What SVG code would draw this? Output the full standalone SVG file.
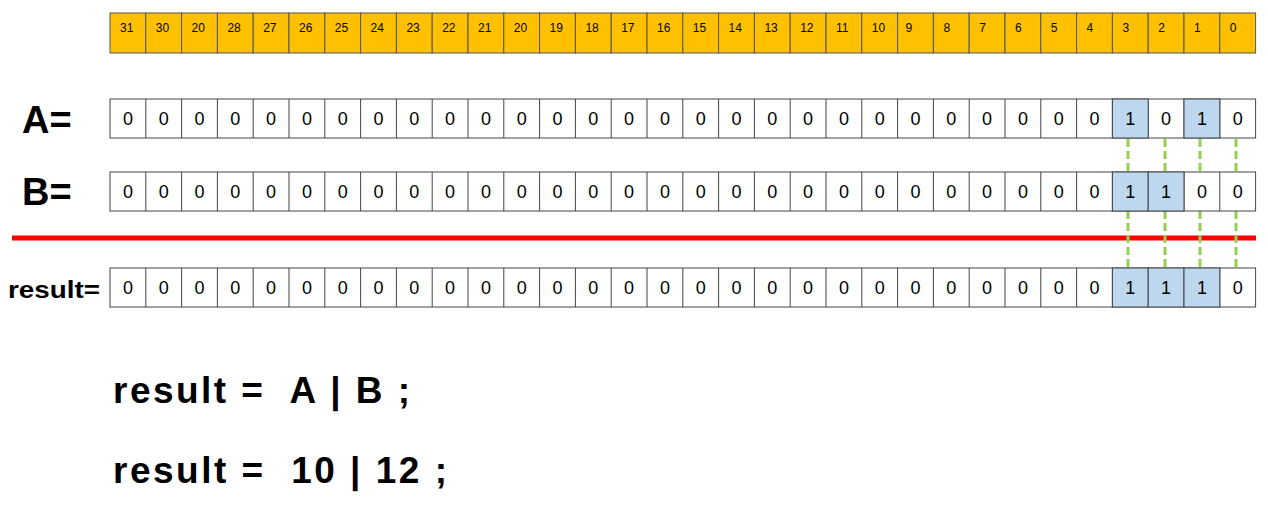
<svg xmlns="http://www.w3.org/2000/svg" width="1268" height="510" viewBox="0 0 1268 510">
<style>
.h{fill:#FFC000;stroke:#555;stroke-width:1}
.c{fill:#fff;stroke:#444;stroke-width:1}
.b{fill:#BDD7EE;stroke:#444;stroke-width:1}
.ht{font-family:"Liberation Sans",sans-serif;font-size:12px;fill:#000}
.v{font-family:"Liberation Sans",sans-serif;font-size:18px;fill:#000;text-anchor:middle}
.l{font-family:"Liberation Sans",sans-serif;font-weight:bold;fill:#000}
.g{stroke:#92D050;stroke-width:3;stroke-dasharray:8,4}
</style>
<rect width="1268" height="510" fill="#fff"/>
<g id="labels">
<text class="l" x="22" y="133" font-size="38">A=</text>
<text class="l" x="22" y="205" font-size="38">B=</text>
<text class="l" x="8" y="298" font-size="24" textLength="92" lengthAdjust="spacingAndGlyphs">result=</text>
<text class="l" x="113" y="403" font-size="37" xml:space="preserve" textLength="297">result =  A | B ;</text>
<text class="l" x="113" y="483" font-size="37" xml:space="preserve" textLength="334">result =  10 | 12 ;</text>
</g>
<g id="connectors">
<line x1="12" y1="238" x2="1256" y2="238" stroke="#FF0000" stroke-width="5"/>
<line class="g" x1="1128" y1="139" x2="1128" y2="171"/>
<line class="g" x1="1165" y1="139" x2="1165" y2="171"/>
<line class="g" x1="1200" y1="139" x2="1200" y2="171"/>
<line class="g" x1="1236" y1="139" x2="1236" y2="171"/>
<line class="g" x1="1128" y1="211" x2="1128" y2="267"/>
<line class="g" x1="1165" y1="211" x2="1165" y2="270"/>
<line class="g" x1="1200" y1="211" x2="1200" y2="268"/>
<line class="g" x1="1236" y1="211" x2="1236" y2="268"/>
</g>
<g id="header">
<rect class="h" x="110.0" y="13" width="35.8" height="40"/><text class="ht" x="120.0" y="32">31</text>
<rect class="h" x="145.8" y="13" width="35.8" height="40"/><text class="ht" x="155.8" y="32">30</text>
<rect class="h" x="181.6" y="13" width="35.8" height="40"/><text class="ht" x="191.6" y="32">20</text>
<rect class="h" x="217.4" y="13" width="35.8" height="40"/><text class="ht" x="227.4" y="32">28</text>
<rect class="h" x="253.2" y="13" width="35.8" height="40"/><text class="ht" x="263.2" y="32">27</text>
<rect class="h" x="289.0" y="13" width="35.8" height="40"/><text class="ht" x="299.0" y="32">26</text>
<rect class="h" x="324.8" y="13" width="35.8" height="40"/><text class="ht" x="334.8" y="32">25</text>
<rect class="h" x="360.6" y="13" width="35.8" height="40"/><text class="ht" x="370.6" y="32">24</text>
<rect class="h" x="396.4" y="13" width="35.8" height="40"/><text class="ht" x="406.4" y="32">23</text>
<rect class="h" x="432.2" y="13" width="35.8" height="40"/><text class="ht" x="442.2" y="32">22</text>
<rect class="h" x="468.0" y="13" width="35.8" height="40"/><text class="ht" x="478.0" y="32">21</text>
<rect class="h" x="503.8" y="13" width="35.8" height="40"/><text class="ht" x="513.8" y="32">20</text>
<rect class="h" x="539.6" y="13" width="35.8" height="40"/><text class="ht" x="549.6" y="32">19</text>
<rect class="h" x="575.4" y="13" width="35.8" height="40"/><text class="ht" x="585.4" y="32">18</text>
<rect class="h" x="611.2" y="13" width="35.8" height="40"/><text class="ht" x="621.2" y="32">17</text>
<rect class="h" x="647.0" y="13" width="35.8" height="40"/><text class="ht" x="657.0" y="32">16</text>
<rect class="h" x="682.8" y="13" width="35.8" height="40"/><text class="ht" x="692.8" y="32">15</text>
<rect class="h" x="718.6" y="13" width="35.8" height="40"/><text class="ht" x="728.6" y="32">14</text>
<rect class="h" x="754.4" y="13" width="35.8" height="40"/><text class="ht" x="764.4" y="32">13</text>
<rect class="h" x="790.2" y="13" width="35.8" height="40"/><text class="ht" x="800.2" y="32">12</text>
<rect class="h" x="826.0" y="13" width="35.8" height="40"/><text class="ht" x="836.0" y="32">11</text>
<rect class="h" x="861.8" y="13" width="35.8" height="40"/><text class="ht" x="871.8" y="32">10</text>
<rect class="h" x="897.6" y="13" width="35.8" height="40"/><text class="ht" x="905.6" y="32">9</text>
<rect class="h" x="933.4" y="13" width="35.8" height="40"/><text class="ht" x="943.4" y="32">8</text>
<rect class="h" x="969.2" y="13" width="35.8" height="40"/><text class="ht" x="979.2" y="32">7</text>
<rect class="h" x="1005.0" y="13" width="35.8" height="40"/><text class="ht" x="1015.0" y="32">6</text>
<rect class="h" x="1040.8" y="13" width="35.8" height="40"/><text class="ht" x="1050.8" y="32">5</text>
<rect class="h" x="1076.6" y="13" width="35.8" height="40"/><text class="ht" x="1086.6" y="32">4</text>
<rect class="h" x="1112.4" y="13" width="35.8" height="40"/><text class="ht" x="1122.4" y="32">3</text>
<rect class="h" x="1148.2" y="13" width="35.8" height="40"/><text class="ht" x="1158.2" y="32">2</text>
<rect class="h" x="1184.0" y="13" width="35.8" height="40"/><text class="ht" x="1194.0" y="32">1</text>
<rect class="h" x="1219.8" y="13" width="35.8" height="40"/><text class="ht" x="1229.8" y="32">0</text>
</g>
<g id="rowA">
<rect class="c" x="110" y="99" width="1145.6" height="39"/>
<path d="M145.8 99v39M181.6 99v39M217.4 99v39M253.2 99v39M289 99v39M324.8 99v39M360.6 99v39M396.4 99v39M432.2 99v39M468 99v39M503.8 99v39M539.6 99v39M575.4 99v39M611.2 99v39M647 99v39M682.8 99v39M718.6 99v39M754.4 99v39M790.2 99v39M826 99v39M861.8 99v39M897.6 99v39M933.4 99v39M969.2 99v39M1005 99v39M1040.8 99v39M1076.6 99v39M1112.4 99v39M1148.2 99v39M1184 99v39M1219.8 99v39" stroke="#444"/>
<rect class="b" x="1112.4" y="99" width="35.8" height="39"/>
<rect class="b" x="1184" y="99" width="35.8" height="39"/>
</g>
<g id="rowB">
<rect class="c" x="110" y="172" width="1145.6" height="39"/>
<path d="M145.8 172v39M181.6 172v39M217.4 172v39M253.2 172v39M289 172v39M324.8 172v39M360.6 172v39M396.4 172v39M432.2 172v39M468 172v39M503.8 172v39M539.6 172v39M575.4 172v39M611.2 172v39M647 172v39M682.8 172v39M718.6 172v39M754.4 172v39M790.2 172v39M826 172v39M861.8 172v39M897.6 172v39M933.4 172v39M969.2 172v39M1005 172v39M1040.8 172v39M1076.6 172v39M1112.4 172v39M1148.2 172v39M1184 172v39M1219.8 172v39" stroke="#444"/>
<rect class="b" x="1112.4" y="172" width="35.8" height="39"/>
<rect class="b" x="1148.2" y="172" width="35.8" height="39"/>
</g>
<g id="rowR">
<rect class="c" x="110" y="268" width="1145.6" height="39"/>
<path d="M145.8 268v39M181.6 268v39M217.4 268v39M253.2 268v39M289 268v39M324.8 268v39M360.6 268v39M396.4 268v39M432.2 268v39M468 268v39M503.8 268v39M539.6 268v39M575.4 268v39M611.2 268v39M647 268v39M682.8 268v39M718.6 268v39M754.4 268v39M790.2 268v39M826 268v39M861.8 268v39M897.6 268v39M933.4 268v39M969.2 268v39M1005 268v39M1040.8 268v39M1076.6 268v39M1112.4 268v39M1148.2 268v39M1184 268v39M1219.8 268v39" stroke="#444"/>
<rect class="b" x="1112.4" y="268" width="35.8" height="39"/>
<rect class="b" x="1148.2" y="268" width="35.8" height="39"/>
<rect class="b" x="1184" y="268" width="35.8" height="39"/>
</g>
<g id="values">
<text class="v" y="125"><tspan x="127.9">0</tspan><tspan x="163.7">0</tspan><tspan x="199.5">0</tspan><tspan x="235.3">0</tspan><tspan x="271.1">0</tspan><tspan x="306.9">0</tspan><tspan x="342.7">0</tspan><tspan x="378.5">0</tspan><tspan x="414.3">0</tspan><tspan x="450.1">0</tspan><tspan x="485.9">0</tspan><tspan x="521.7">0</tspan><tspan x="557.5">0</tspan><tspan x="593.3">0</tspan><tspan x="629.1">0</tspan><tspan x="664.9">0</tspan><tspan x="700.7">0</tspan><tspan x="736.5">0</tspan><tspan x="772.3">0</tspan><tspan x="808.1">0</tspan><tspan x="843.9">0</tspan><tspan x="879.7">0</tspan><tspan x="915.5">0</tspan><tspan x="951.3">0</tspan><tspan x="987.1">0</tspan><tspan x="1022.9">0</tspan><tspan x="1058.7">0</tspan><tspan x="1094.5">0</tspan><tspan x="1130.3">1</tspan><tspan x="1166.1">0</tspan><tspan x="1201.9">1</tspan><tspan x="1237.7">0</tspan></text>
<text class="v" y="198"><tspan x="127.9">0</tspan><tspan x="163.7">0</tspan><tspan x="199.5">0</tspan><tspan x="235.3">0</tspan><tspan x="271.1">0</tspan><tspan x="306.9">0</tspan><tspan x="342.7">0</tspan><tspan x="378.5">0</tspan><tspan x="414.3">0</tspan><tspan x="450.1">0</tspan><tspan x="485.9">0</tspan><tspan x="521.7">0</tspan><tspan x="557.5">0</tspan><tspan x="593.3">0</tspan><tspan x="629.1">0</tspan><tspan x="664.9">0</tspan><tspan x="700.7">0</tspan><tspan x="736.5">0</tspan><tspan x="772.3">0</tspan><tspan x="808.1">0</tspan><tspan x="843.9">0</tspan><tspan x="879.7">0</tspan><tspan x="915.5">0</tspan><tspan x="951.3">0</tspan><tspan x="987.1">0</tspan><tspan x="1022.9">0</tspan><tspan x="1058.7">0</tspan><tspan x="1094.5">0</tspan><tspan x="1130.3">1</tspan><tspan x="1166.1">1</tspan><tspan x="1201.9">0</tspan><tspan x="1237.7">0</tspan></text>
<text class="v" y="294"><tspan x="127.9">0</tspan><tspan x="163.7">0</tspan><tspan x="199.5">0</tspan><tspan x="235.3">0</tspan><tspan x="271.1">0</tspan><tspan x="306.9">0</tspan><tspan x="342.7">0</tspan><tspan x="378.5">0</tspan><tspan x="414.3">0</tspan><tspan x="450.1">0</tspan><tspan x="485.9">0</tspan><tspan x="521.7">0</tspan><tspan x="557.5">0</tspan><tspan x="593.3">0</tspan><tspan x="629.1">0</tspan><tspan x="664.9">0</tspan><tspan x="700.7">0</tspan><tspan x="736.5">0</tspan><tspan x="772.3">0</tspan><tspan x="808.1">0</tspan><tspan x="843.9">0</tspan><tspan x="879.7">0</tspan><tspan x="915.5">0</tspan><tspan x="951.3">0</tspan><tspan x="987.1">0</tspan><tspan x="1022.9">0</tspan><tspan x="1058.7">0</tspan><tspan x="1094.5">0</tspan><tspan x="1130.3">1</tspan><tspan x="1166.1">1</tspan><tspan x="1201.9">1</tspan><tspan x="1237.7">0</tspan></text>
</g>
</svg>
